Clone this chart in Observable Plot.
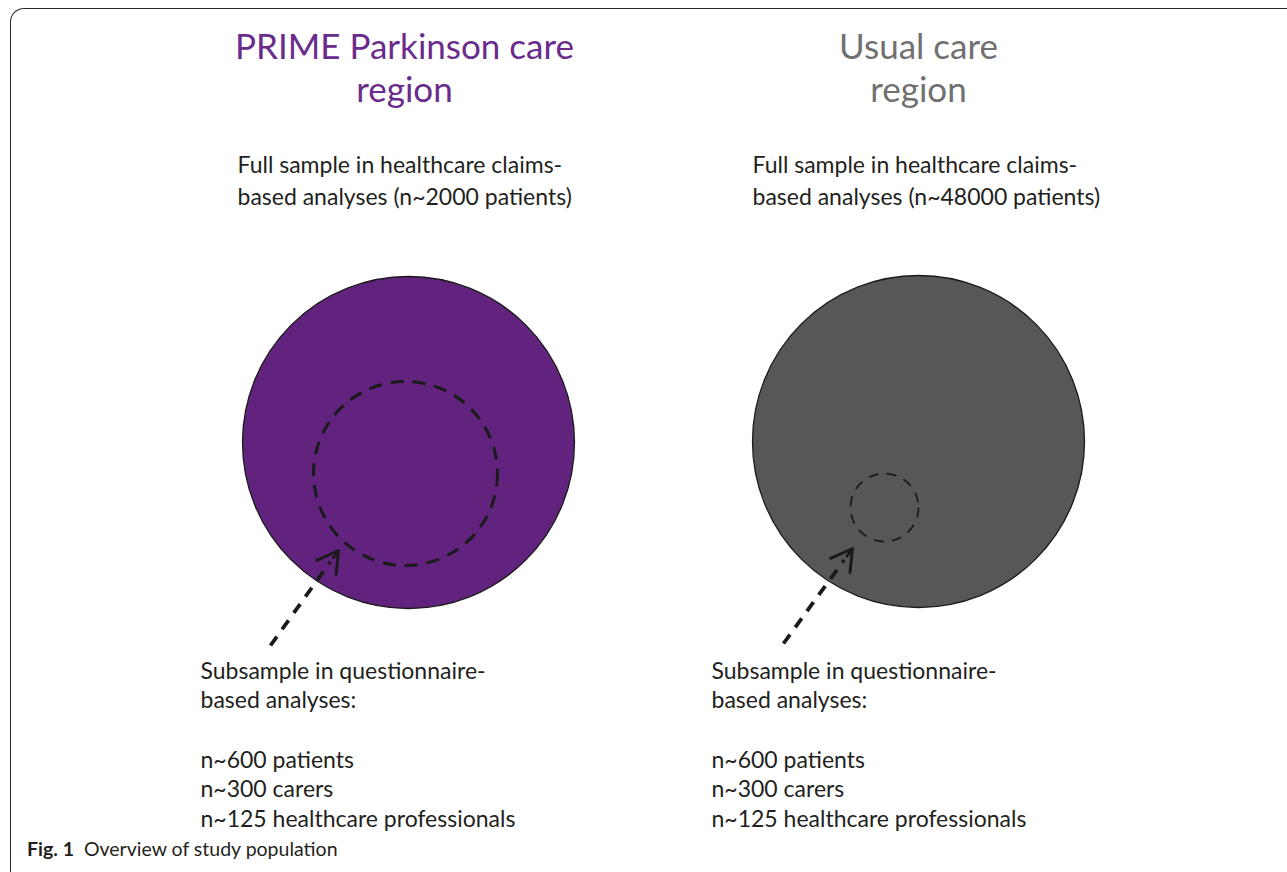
<!DOCTYPE html>
<html><head><meta charset="utf-8">
<script src="https://cdn.jsdelivr.net/npm/d3@7"></script>
<script src="https://cdn.jsdelivr.net/npm/@observablehq/plot@0.6"></script>
<style>
body{margin:0;background:#fff;}
#wrap{position:relative;width:1287px;height:872px;overflow:hidden;background:#fff;}
#frame{position:absolute;left:10px;top:8px;width:1400px;height:1000px;border-left:1.6px solid #2a2a2a;border-top:1.6px solid #2a2a2a;border-top-left-radius:14px;}
#chart{position:absolute;left:0;top:0;}
#caption{position:absolute;left:27px;top:837px;font-family:Lato,"Open Sans",sans-serif;font-size:19.5px;color:#231f20;white-space:pre;}
</style></head><body>
<div id="wrap"><div id="frame"></div><div id="chart"></div><div id="caption"></div></div>
<script>
// ---- data ----
const regions = ["PRIME Parkinson care", "Usual care"];
const regionColors = ["#62237f", "#575757"];
const titleColors = ["#6a2c8c", "#707070"];
const fullSampleN = [2000, 48000];
const subsampleGroups = ["patients", "carers", "healthcare professionals"];
const subsampleN = [600, 300, 125];
const captionLabel = "Fig. 1";
const captionText = "Overview of study population";

// ---- layout (chart units) ----
const layout = {
  titleX: [404, 918], titleY: 28,
  fullX: [237, 752], fullY: 149,
  circleX: [408, 918], circleY: [442, 441], circleR: 166,
  subX: [405, 884], subY: [473, 507], subR: [92, 34],
  arrowFrom: [[270, 645], [783, 643]], arrowTo: [[338, 550], [852, 548]],
  subTextX: [200, 711], subTextY: 657
};

const subLines = ["Subsample in questionnaire-", "based analyses:", "",
  ...subsampleGroups.map((g, i) => `n~${subsampleN[i]} ${g}`)].join("\n");

const table = regions.map((name, i) => {
  const [x1, y1] = layout.arrowFrom[i], [x2, y2] = layout.arrowTo[i];
  return {
    name, i,
    title: name + "\nregion",
    full: `Full sample in healthcare claims-\nbased analyses (n~${fullSampleN[i]} patients)`,
    sub: subLines,
    tx: layout.titleX[i], fx: layout.fullX[i], sx: layout.subTextX[i],
    cx: layout.circleX[i], cy: layout.circleY[i], r: layout.circleR,
    dx: layout.subX[i], dy: layout.subY[i], dr: layout.subR[i],
    x1, y1, x2, y2,
    hx: x2 + 0.12 * (x1 - x2), hy: y2 + 0.12 * (y1 - y2),
    fill: regionColors[i], tcolor: titleColors[i]
  };
});

const font = "Lato, 'Open Sans', sans-serif";
const ink = "#1a1a1a";
const chart = Plot.plot({
  width: 1287, height: 872,
  margin: 0,
  x: {domain: [0, 1287], range: [0, 1287], axis: null},
  y: {domain: [0, 872], range: [0, 872], axis: null},
  r: {type: "identity"},
  color: {type: "identity"},
  style: {fontFamily: font, background: "transparent"},
  marks: [
    Plot.dot(table, {x: "cx", y: "cy", r: "r", fill: "fill", stroke: ink, strokeWidth: 1.3}),
    Plot.dot(table.filter(d => d.i === 0), {x: "dx", y: "dy", r: "dr", fill: "none", stroke: ink, strokeWidth: 3, strokeDasharray: "13,9"}),
    Plot.dot(table.filter(d => d.i === 1), {x: "dx", y: "dy", r: "dr", fill: "none", stroke: ink, strokeWidth: 1.8, strokeDasharray: "10,8"}),
    Plot.link(table, {x1: "x1", y1: "y1", x2: "hx", y2: "hy", stroke: ink, strokeWidth: 3.8, strokeDasharray: "11,9"}),
    Plot.arrow(table, {x1: "x1", y1: "y1", x2: "x2", y2: "y2", insetStart: 108, stroke: ink, strokeWidth: 3, headLength: 12, headAngle: 60}),
    Plot.text(table, {x: "tx", y: layout.titleY, text: "title", fill: "tcolor", fontSize: 35, lineAnchor: "top", textAnchor: "middle", lineHeight: 1.23}),
    Plot.text(table, {x: "fx", y: layout.fullY, text: "full", fill: "#231f20", fontSize: 23, lineAnchor: "top", textAnchor: "start", lineHeight: 1.42}),
    Plot.text(table, {x: "sx", y: layout.subTextY, text: "sub", fill: "#231f20", fontSize: 23, lineAnchor: "top", textAnchor: "start", lineHeight: 1.29})
  ]
});
document.getElementById("chart").appendChild(chart);
const cap = document.getElementById("caption");
const b = document.createElement("b"); b.textContent = captionLabel;
cap.appendChild(b);
cap.appendChild(document.createTextNode("  " + captionText));
</script>
</body></html>
